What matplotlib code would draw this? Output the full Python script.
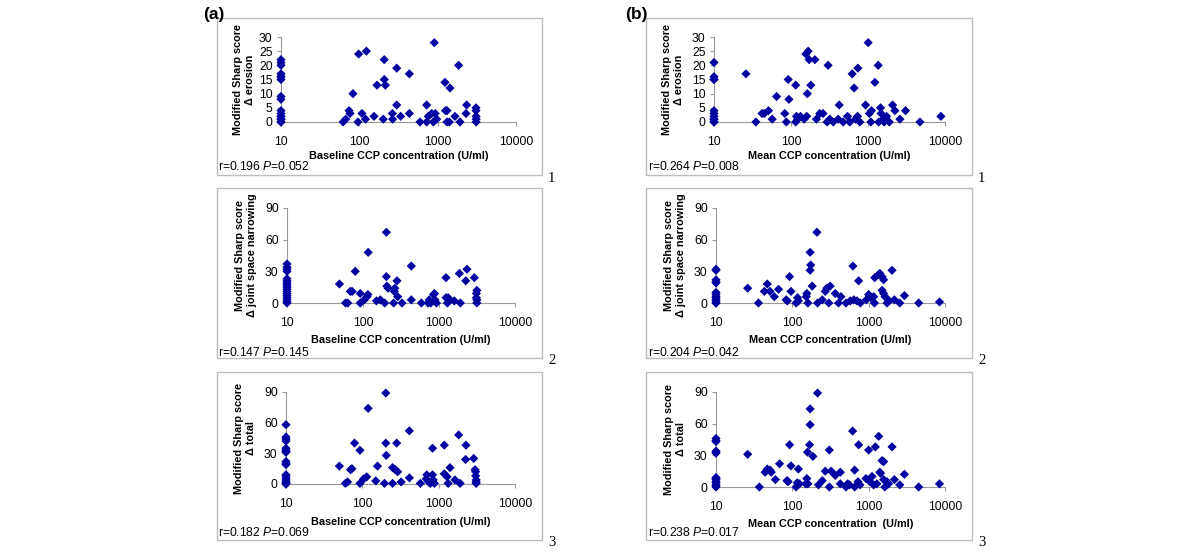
import matplotlib
matplotlib.use('Agg')
import matplotlib.pyplot as plt
import matplotlib.patches as mpatches

plt.rcParams['font.family'] = ['Liberation Sans', 'DejaVu Sans']
plt.rcParams['mathtext.fontset'] = 'custom'
plt.rcParams['mathtext.it'] = 'Liberation Sans:italic'
plt.rcParams['mathtext.rm'] = 'Liberation Sans'

# (a) baseline CCP - erosion
a1_y10 = [0, 0, 1, 1, 2, 2, 3, 4, 8, 9, 15, 16, 16, 17, 20, 21, 22]
a1_x = [62, 67, 74, 76, 83, 96, 98, 108, 120, 123, 154, 168, 202, 208, 208, 215, 264, 266,
        300, 300, 337, 435, 435, 595, 724, 724, 760, 838, 881, 906, 930, 971, 1240, 1260,
        1316, 1316, 1409, 1437, 1663, 1853, 1928, 2300, 2344, 3085, 3085, 3100, 3100, 3100]
a1_y = [0, 1, 4, 3, 10, 0, 24, 3, 1, 25, 2, 13, 1, 22, 15, 13, 3, 1,
        19, 6, 2, 17, 3, 0, 6, 0, 2, 3, 0, 28, 3, 1, 14, 4,
        4, 0, 0, 12, 2, 20, 0, 3, 6, 5, 4, 2, 1, 0]

# (a) baseline CCP - joint space narrowing
a2_y10 = [0, 1, 3, 5, 7, 9, 11, 13, 15, 17, 19, 21, 23, 30, 32, 34, 37]
a2_x = [49, 59, 63, 68, 72, 79, 92, 92, 104, 113, 117, 116, 150, 169, 193, 203, 203, 206,
        214, 253, 262, 258, 280, 286, 326, 432, 432, 586, 717, 745, 780, 851, 870, 885,
        925, 1236, 1236, 1290, 1350, 1320, 1592, 1910, 1853, 2334, 2250, 2918, 3100, 3100,
        3150, 3150, 3150]
a2_y = [18, 0, 0, 11, 11, 30, 9, 0, 3, 6, 48, 8, 2, 3, 0, 67, 25, 16,
        14, 0, 14, 11, 21, 6, 0, 35, 3, 0, 0, 3, 0, 8, 9, 3,
        0, 24, 5, 0, 3, 5, 2, 0, 28, 32, 21, 24, 5, 9,
        12, 0, 3]

# (a) baseline CCP - total
a3_y10 = [0, 0, 1, 2, 4, 6, 8, 9, 19, 20, 22, 31, 32, 33, 35, 42, 44, 46, 58]
a3_x = [50, 60, 64, 70, 73, 79, 93, 93, 104, 114, 119, 150, 158, 195, 203, 203, 206, 249,
        249, 270, 282, 290, 322, 413, 413, 575, 685, 700, 740, 780, 831, 831, 850, 880,
        1185, 1185, 1290, 1330, 1407, 1637, 1829, 1910, 2282, 2250, 2878, 3000, 3050,
        3050, 3100, 3100, 3100]
a3_y = [17.5, 0.6, 2, 14, 15, 40, 33, 0.6, 5, 7, 74, 3, 17.5, 0.6, 89, 40, 28, 0.6,
        16, 14, 40, 12, 2, 52, 6, 0.6, 5, 9, 2, 0.6, 35, 9, 4, 0.6,
        38, 10, 7, 0.6, 16, 4, 48, 0.6, 38, 24, 25, 14, 12,
        8, 4, 0.6, 2]

# (b) mean CCP - erosion
b1_y10 = [0, 0, 1, 1, 2, 3, 4, 15, 15, 16, 21]
b1_x = [26, 35, 42, 45, 51, 57, 65, 83, 87, 92, 94, 115, 115, 118, 122, 133, 148, 160,
        156, 167, 163, 172, 181, 204, 214, 236, 261, 294, 303, 319, 353, 410, 423, 476,
        542, 580, 623, 661, 690, 731, 739, 783, 929, 1006, 1040, 1111, 1090, 1228, 1357,
        1380, 1455, 1480, 1578, 1620, 1742, 1888, 2086, 2235, 2596, 3075, 4724, 8846]
b1_y = [17, 0, 3, 3, 4, 1, 9, 3, 0, 15, 8, 13, 0, 2, 1, 2, 1, 2,
        24, 25, 10, 22, 13, 22, 1, 3, 3, 0, 20, 1, 0, 1, 6, 0,
        2, 0, 17, 12, 1, 2, 19, 0, 6, 28, 3, 4, 0, 14, 20,
        0, 5, 3, 1, 0, 2, 0, 6, 4, 1, 4, 0, 2]

# (b) mean CCP - joint space narrowing
b2_y10 = [0, 0, 2, 3, 5, 6, 8, 10, 19, 20, 22, 31, 32]
b2_x = [26, 36, 43, 47, 51, 58, 66, 83, 86, 92, 96, 112, 117, 120, 152, 155, 160, 171,
        174, 171, 182, 210, 214, 247, 270, 283, 301, 313, 365, 403, 433, 504, 574, 622,
        640, 703, 739, 778, 931, 1000, 1060, 1164, 1190, 1200, 1353, 1400, 1497, 1570,
        1497, 1570, 1640, 1741, 1850, 2024, 2172, 2553, 2940, 4528, 8471]
b2_y = [14, 0, 11, 18, 11, 6, 13, 3, 2, 25, 11, 0, 5, 2, 6, 9, 0, 31,
        36, 48, 16, 67, 0, 3, 11, 14, 0, 16, 9, 0, 6, 0, 2, 35,
        3, 2, 21, 0, 3, 8, 5, 6, 0, 24, 27, 28, 25, 22,
        12, 9, 6, 0, 2, 31, 3, 0, 7, 0, 1]

# (b) mean CCP - total
b3_y10 = [0, 1, 2, 4, 5, 7, 8, 9, 32, 33, 34, 43, 44, 46]
b3_x = [26, 37, 44, 47, 51, 53, 60, 68, 85, 88, 92, 96, 112, 116, 120, 124, 150, 155,
        158, 168, 171, 171, 160, 186, 214, 220, 247, 270, 305, 305, 323, 365, 425, 425,
        504, 530, 560, 616, 655, 655, 725, 739, 770, 922, 1000, 1040, 1107, 1160, 1223,
        1280, 1353, 1400, 1430, 1497, 1570, 1570, 1630, 1741, 1820, 2024, 2172, 2553,
        2940, 4528, 8471]
b3_y = [31, 0, 14, 17, 16, 14, 7, 22, 6, 5, 40, 20, 0, 4, 17, 3, 3, 8,
        33, 40, 59, 74, 3, 29, 89, 2, 6, 15, 0, 35, 15, 11, 14, 3,
        0, 3, 2, 53, 16, 0, 5, 40, 2, 8, 35, 5, 10, 2, 38,
        3, 48, 14, 13, 25, 24, 7, 0, 5, 3, 38, 7, 2,
        12, 0, 3]

xticks = [10, 100, 1000, 10000]
xtick_labels = ['10', '100', '1000', '10000']

W, H = 1200, 560
fig = plt.figure(figsize=(12, 5.6), dpi=100)
blue = '#0000A0'
grey = '#9a9a9a'


def box(x0, y0, x1, y1, num):
    r = mpatches.Rectangle((x0 / W, 1 - y1 / H), (x1 - x0) / W, (y1 - y0) / H,
                           transform=fig.transFigure, fill=False,
                           edgecolor='#bdbdbd', lw=1.0)
    fig.patches.append(r)
    fig.text((x1 + 6) / W, 1 - (y1 + 3) / H, num, family='Liberation Serif',
             fontsize=10.5, ha='left', va='center')


def panel(x0, x1, ytop, ybot, xs, ys, ymax, yticks, ylab, ylab_x, xlab, xlab_y,
          stat, stat_x, stat_y):
    ax = fig.add_axes([x0 / W, 1 - ybot / H, (x1 - x0) / W, (ybot - ytop) / H])
    ax.scatter(xs, ys, marker='D', s=22, color=blue, edgecolors='none',
               clip_on=False, zorder=3)
    ax.set_xscale('log')
    ax.set_xlim(10, 10000)
    ax.set_ylim(0, ymax)
    ax.set_xticks(xticks)
    ax.set_xticklabels(xtick_labels)
    ax.minorticks_off()
    ax.set_yticks(yticks)
    for s in ['top', 'right']:
        ax.spines[s].set_visible(False)
    for s in ['left', 'bottom']:
        ax.spines[s].set_color(grey)
        ax.spines[s].set_linewidth(0.8)
    ax.tick_params(axis='both', colors=grey, labelcolor='black', labelsize=8.8,
                   length=3, width=0.8, direction='out')
    ax.tick_params(axis='x', pad=7)
    ax.tick_params(axis='y', pad=3)
    ax.patch.set_alpha(0)
    fig.text(ylab_x / W, 1 - (ytop + ybot) / 2 / H, ylab, rotation=90,
             ha='center', va='center', multialignment='center',
             fontsize=7.8, fontweight='bold', linespacing=1.2)
    fig.text((x0 + x1) / 2 / W, 1 - xlab_y / H, xlab, ha='center', va='center',
             fontsize=7.8, fontweight='bold')
    fig.text(stat_x / W, 1 - stat_y / H, stat, ha='left', va='center', fontsize=8.7)
    return ax


ero_lab = 'Modified Sharp score\n\u0394 erosion'
jsn_lab = 'Modified Sharp score\n\u0394 joint space narrowing'
tot_lab = 'Modified Sharp score\n\u0394 total'
base_lab = 'Baseline CCP concentration (U/ml)'
mean_lab = 'Mean CCP concentration (U/ml)'

# boxes
box(217, 18, 542, 175, '1')
box(217, 188, 542, 358, '2')
box(217, 372, 542, 540, '3')
box(646, 18, 972, 175, '1')
box(646, 188, 972, 358, '2')
box(646, 372, 972, 540, '3')

panel(281, 516, 37, 122, [10] * len(a1_y10) + a1_x, a1_y10 + a1_y, 30,
      [0, 5, 10, 15, 20, 25, 30], ero_lab, 244, base_lab, 156,
      r'r=0.196 $\mathit{P}$=0.052', 218, 167)
panel(287, 515, 208, 303, [10] * len(a2_y10) + a2_x, a2_y10 + a2_y, 90,
      [0, 30, 60, 90], jsn_lab, 246, base_lab, 340,
      r'r=0.147 $\mathit{P}$=0.145', 218, 352)
panel(286, 515, 392, 484, [10] * len(a3_y10) + a3_x, a3_y10 + a3_y, 90,
      [0, 30, 60, 90], tot_lab, 245, base_lab, 522,
      r'r=0.182 $\mathit{P}$=0.069', 218, 532)
panel(714, 945, 37, 122, [10] * len(b1_y10) + b1_x, b1_y10 + b1_y, 30,
      [0, 5, 10, 15, 20, 25, 30], ero_lab, 673, mean_lab, 156,
      r'r=0.264 $\mathit{P}$=0.008', 648, 167)
panel(716, 945, 208, 303, [10] * len(b2_y10) + b2_x, b2_y10 + b2_y, 90,
      [0, 30, 60, 90], jsn_lab, 675, mean_lab, 340,
      r'r=0.204 $\mathit{P}$=0.042', 648, 352)
panel(716, 945, 392, 487, [10] * len(b3_y10) + b3_x, b3_y10 + b3_y, 90,
      [0, 30, 60, 90], tot_lab, 675, 'Mean CCP concentration  (U/ml)', 524,
      r'r=0.238 $\mathit{P}$=0.017', 648, 533)

fig.text(203 / W, 1 - 14 / H, '(a)', fontsize=12.5, fontweight='bold', ha='left', va='center')
fig.text(625 / W, 1 - 14 / H, '(b)', fontsize=12.5, fontweight='bold', ha='left', va='center')

fig.savefig('out.png', dpi=100)
